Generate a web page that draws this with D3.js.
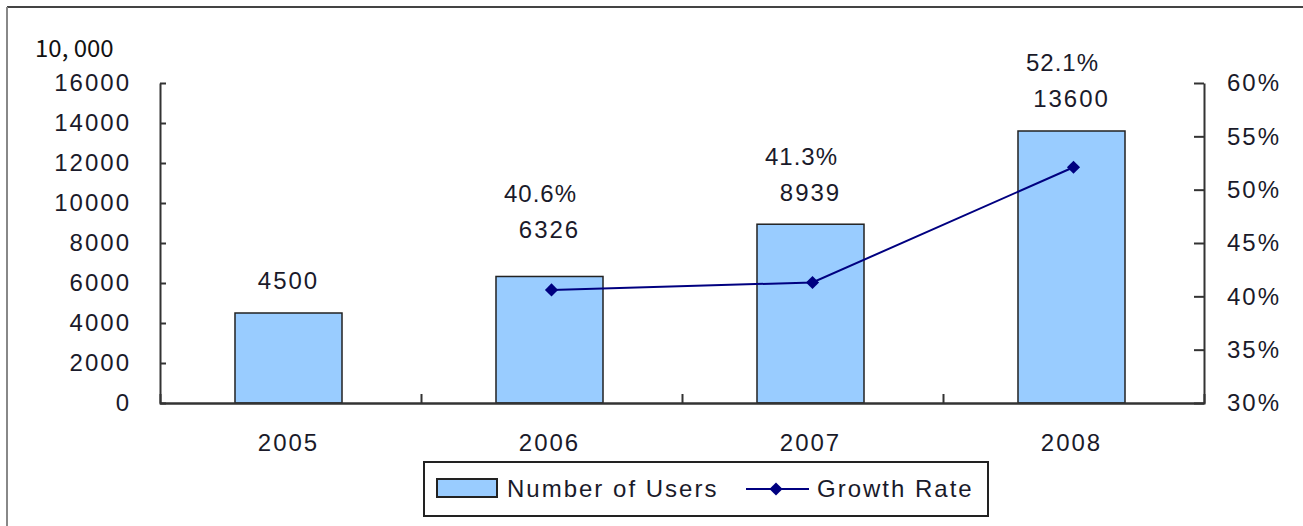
<!DOCTYPE html>
<html lang="en">
<head>
<meta charset="UTF-8">
<title>Users and growth</title>
<script src="https://cdnjs.cloudflare.com/ajax/libs/d3/7.8.4/d3.min.js"></script>
<style>
  body { margin: 0; background: #fff; }
  svg text { font-family: "Liberation Sans", Arial, sans-serif; fill: #1a1a2a; }
</style>
</head>
<body>
<div class="holder"></div>
<script>
  // data
  const years = ["2005", "2006", "2007", "2008"];
  const users = [4500, 6326, 8939, 13600];
  const growth = [null, 40.6, 41.3, 52.1];
  const leftTicks = [0, 2000, 4000, 6000, 8000, 10000, 12000, 14000, 16000];
  const rightTicks = [30, 35, 40, 45, 50, 55, 60];

  const w = 1303, h = 526;
  const padL = 160, padR = 1204, base = 403, ceil = 83;

  const svg = d3.select(".holder").append("svg")
    .attr("width", w).attr("height", h);

  // outer frame (only top and left edges show)
  svg.append("line").attr("x1", 7).attr("x2", w).attr("y1", 7).attr("y2", 7)
    .attr("stroke", "#444").attr("stroke-width", 2);
  svg.append("line").attr("x1", 7).attr("x2", 7).attr("y1", 7).attr("y2", h)
    .attr("stroke", "#888").attr("stroke-width", 2);

  const x = d3.scaleBand().domain(years).range([padL, padR]);
  const yL = d3.scaleLinear().domain([0, 16000]).range([base, ceil]);
  const yR = d3.scaleLinear().domain([30, 60]).range([base, ceil]);
  const bw = x.bandwidth() * 0.41;
  const cx = d => x(d) + x.bandwidth() / 2 - 2;

  // bars
  svg.selectAll("rect.bar")
    .data(years)
    .enter()
    .append("rect")
    .attr("class", "bar")
    .attr("x", d => cx(d) - bw / 2)
    .attr("y", (d, i) => yL(users[i]))
    .attr("width", bw)
    .attr("height", (d, i) => base - yL(users[i]))
    .attr("fill", "#99ccff")
    .attr("stroke", "#222")
    .attr("stroke-width", 1.5);

  // axes
  const styleAxis = g => {
    g.selectAll("path, line").attr("stroke", "#333").attr("stroke-width", 2);
    g.selectAll("text").attr("font-size", 24).attr("letter-spacing", 2)
      .attr("font-family", "Liberation Sans, Arial, sans-serif").attr("fill", "#1a1a2a");
  };

  svg.append("g")
    .attr("transform", "translate(" + padL + ",0)")
    .call(d3.axisLeft(yL).tickValues(leftTicks).tickSize(-6).tickSizeOuter(0).tickPadding(29)
      .tickFormat(d3.format("d")))
    .call(styleAxis);

  svg.append("g")
    .attr("transform", "translate(" + padR + ",0)")
    .call(d3.axisRight(yR).tickValues(rightTicks).tickSize(-10).tickSizeOuter(0).tickPadding(23)
      .tickFormat(d => d + "%"))
    .call(styleAxis);

  svg.append("g")
    .attr("transform", "translate(0," + base + ")")
    .call(d3.axisBottom(x).tickSize(0).tickPadding(31))
    .call(styleAxis)
    .selectAll(".tick").attr("transform", d => "translate(" + cx(d) + ",0)");

  // separators between categories
  const sep = d3.scaleLinear().domain([0, years.length]).range([padL, padR]);
  svg.append("g")
    .attr("transform", "translate(0," + base + ")")
    .call(d3.axisBottom(sep).tickValues(d3.range(1, years.length)).tickSize(-9).tickFormat(""))
    .call(styleAxis);

  // unit label
  svg.append("text")
    .attr("x", 35).attr("y", 57)
    .attr("font-size", 24)
    .style("font-family", "'Noto Sans CJK SC', 'DejaVu Sans', sans-serif")
    .style("fill", "#111")
    .text("10, 000");

  // growth line
  const pts = years.map((d, i) => ({ year: d, g: growth[i] })).filter(d => d.g != null);
  svg.append("path")
    .datum(pts)
    .attr("fill", "none")
    .attr("stroke", "#000080")
    .attr("stroke-width", 2)
    .attr("d", d3.line().x(d => cx(d.year) + 2).y(d => yR(d.g)));

  const diamond = d3.symbol().type(d3.symbolDiamond2 || d3.symbolDiamond).size(110);
  svg.selectAll("path.pt")
    .data(pts)
    .enter()
    .append("path")
    .attr("class", "pt")
    .attr("transform", d => "translate(" + (cx(d.year) + 2) + "," + yR(d.g) + ")")
    .attr("d", diamond)
    .attr("fill", "#000080");

  // value labels, kept clear of the line
  const countY = (i) => {
    const yb = yL(users[i]) - 32;
    return growth[i] == null ? yb : Math.min(yb, yR(growth[i]) - 60);
  };
  years.forEach((d, i) => {
    const cy = countY(i);
    svg.append("text")
      .attr("x", cx(d)).attr("y", cy)
      .attr("dy", "0.35em")
      .attr("text-anchor", "middle")
      .attr("font-size", 24).attr("letter-spacing", 2)
      .text(users[i]);
    if (growth[i] != null) {
      svg.append("text")
        .attr("x", cx(d) - 9).attr("y", cy - 36)
        .attr("dy", "0.35em")
        .attr("text-anchor", "middle")
        .attr("font-size", 24).attr("letter-spacing", 1)
        .text(growth[i].toFixed(1) + "%");
    }
  });

  // legend
  const lg = svg.append("g").attr("transform", "translate(424,462)");
  lg.append("rect").attr("width", 564).attr("height", 54)
    .attr("fill", "#fff").attr("stroke", "#222").attr("stroke-width", 2);
  lg.append("rect").attr("x", 13).attr("y", 17).attr("width", 60).attr("height", 18)
    .attr("fill", "#99ccff").attr("stroke", "#222").attr("stroke-width", 2);
  lg.append("text").attr("x", 83).attr("y", 27).attr("dy", "0.35em")
    .attr("font-size", 24).attr("letter-spacing", 2).text("Number of Users");
  lg.append("line").attr("x1", 322).attr("x2", 385).attr("y1", 27).attr("y2", 27)
    .attr("stroke", "#000080").attr("stroke-width", 2);
  lg.append("path").attr("transform", "translate(352,27)").attr("d", diamond).attr("fill", "#000080");
  lg.append("text").attr("x", 393).attr("y", 27).attr("dy", "0.35em")
    .attr("font-size", 24).attr("letter-spacing", 2).text("Growth Rate");
</script>
</body>
</html>
